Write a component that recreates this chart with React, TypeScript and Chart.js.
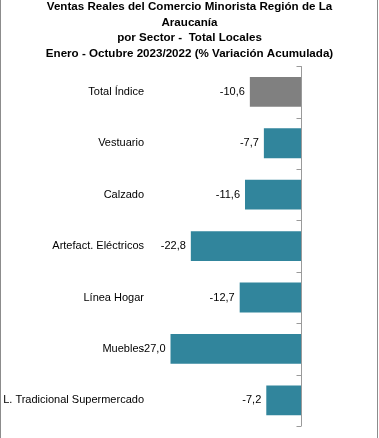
import React, { useEffect, useRef } from "react";
import { Chart, registerables } from "chart.js";

Chart.register(...registerables);

const titleLines = [
  "Ventas Reales del Comercio Minorista Región de La",
  "Araucanía",
  "por Sector -  Total Locales",
  "Enero - Octubre 2023/2022 (% Variación Acumulada)",
];
const categories = [
  "Total Índice",
  "Vestuario",
  "Calzado",
  "Artefact. Eléctricos",
  "Línea Hogar",
  "Muebles",
  "L. Tradicional Supermercado",
];
const values = [-10.6, -7.7, -11.6, -22.8, -12.7, -27.0, -7.2];
const barColors = ["#808080", "#31859C", "#31859C", "#31859C", "#31859C", "#31859C", "#31859C"];

const FONT = "'Liberation Sans', Arial, sans-serif";

const axisPlugin = {
  id: "axisAtZero",
  afterDatasetsDraw(chart: any) {
    const { ctx, chartArea, scales } = chart;
    const x0 = Math.round(scales.x.getPixelForValue(0)) + 0.5;
    ctx.save();
    ctx.strokeStyle = "#9a9a9a";
    ctx.lineWidth = 1;
    ctx.beginPath();
    ctx.moveTo(x0, chartArea.top);
    ctx.lineTo(x0, chartArea.bottom);
    for (let i = 0; i <= categories.length; i++) {
      const y = Math.round(scales.y.getPixelForValue(i - 0.5)) + 0.5;
      ctx.moveTo(x0 - 5, y);
      ctx.lineTo(x0, y);
    }
    ctx.stroke();
    const meta = chart.getDatasetMeta(0);
    ctx.fillStyle = "#000";
    ctx.font = `11px ${FONT}`;
    ctx.textAlign = "right";
    ctx.textBaseline = "middle";
    meta.data.forEach((el: any, i: number) => {
      const label = values[i].toFixed(1).replace(".", ",");
      ctx.fillText(label, el.x - 5, el.y);
    });
    ctx.restore();
  },
};

export default function App() {
  const ref = useRef<HTMLCanvasElement>(null);
  useEffect(() => {
    if (!ref.current) return;
    const chart = new Chart(ref.current, {
      type: "bar",
      data: {
        labels: categories,
        datasets: [
          {
            data: values,
            backgroundColor: barColors,
            borderWidth: 0,
            barPercentage: 0.58,
            categoryPercentage: 1,
          },
        ],
      },
      plugins: [axisPlugin],
      options: {
        indexAxis: "y",
        animation: false,
        responsive: false,
        maintainAspectRatio: false,
        devicePixelRatio: 1,
        layout: { padding: { top: 0, right: 0, bottom: 12, left: 0 } },
        plugins: {
          legend: { display: false },
          tooltip: { enabled: false },
          title: {
            display: true,
            text: titleLines,
            color: "#000",
            font: { family: FONT, size: 11.6, weight: "bold", lineHeight: 1.34 },
            padding: { top: 0, bottom: 5 },
          },
        },
        scales: {
          x: { min: -30, max: 16.1, display: false },
          y: {
            grid: { display: false, drawTicks: false },
            border: { display: false },
            ticks: {
              color: "#000",
              font: { family: FONT, size: 11 },
              padding: 12,
              autoSkip: false,
            },
            afterFit: (scale: any) => {
              scale.width = 156;
              scale.paddingTop = 0;
              scale.paddingBottom = 0;
            },
          },
        },
      },
    });
    return () => chart.destroy();
  }, []);
  return (
    <div
      style={{
        position: "fixed",
        left: 0,
        top: 0,
        width: 379,
        height: 438,
        background: "#fff",
        overflow: "hidden",
      }}
    >
      <canvas
        ref={ref}
        width={379}
        height={439}
        style={{ position: "absolute", left: 0, top: -1, width: 379, height: 439 }}
      />
      <div style={{ position: "absolute", left: 0, top: 0, width: 1, height: 438, background: "#8c8c8c" }} />
      <div style={{ position: "absolute", left: 377, top: 0, width: 1, height: 438, background: "#8c8c8c" }} />
    </div>
  );
}
